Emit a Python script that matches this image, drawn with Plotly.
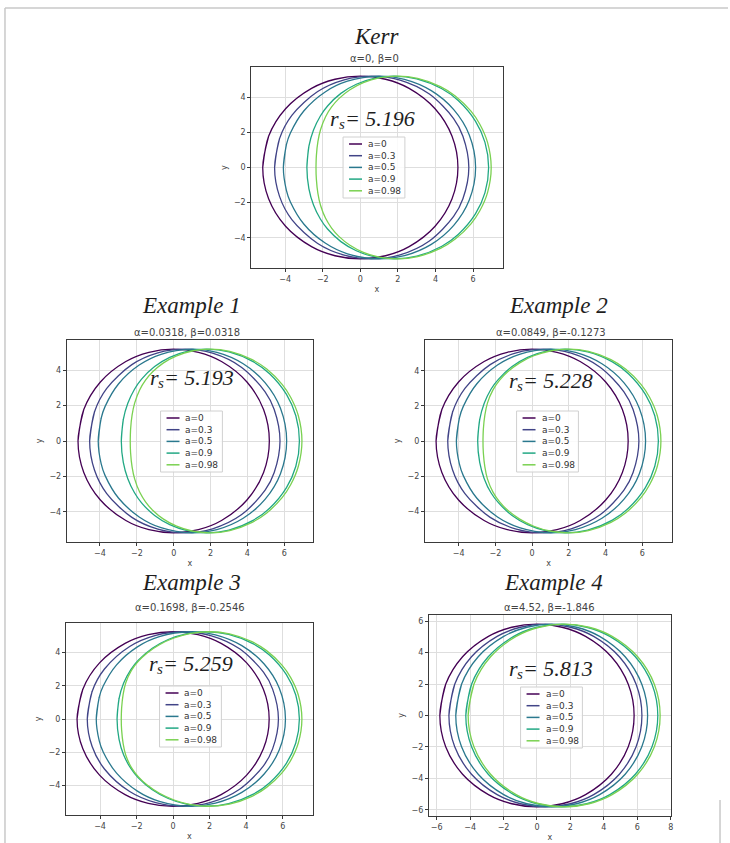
import plotly.graph_objects as go

W, H = 730, 843

SPIN_LABELS = ["a=0", "a=0.3", "a=0.5", "a=0.9", "a=0.98"]
SPIN_COLORS = ["#440154", "#414487", "#2a788e", "#22a884", "#7ad151"]

PANEL_TITLES = ["Kerr", "Example 1", "Example 2", "Example 3", "Example 4"]
PANEL_PARAMS = ["α=0, β=0", "α=0.0318, β=0.0318", "α=0.0849, β=-0.1273",
                "α=0.1698, β=-0.2546", "α=4.52, β=-1.846"]
SHADOW_RADII = ["5.196", "5.193", "5.228", "5.259", "5.813"]

# Upper half of each shadow rim (one list per spin), running from the
# left edge on y=0, over the top, to the right edge on y=0.
KERR_X = [
    [-5.196, -4.883, -3.980, -2.598, -1.345, 0.0, 1.345, 2.598, 3.980, 4.883, 5.196],
    [-4.565, -4.302, -3.635, -2.270, -0.860, 0.600, 2.111, 3.676, 4.967, 5.461, 5.776],
    [-4.098, -3.936, -3.723, -3.000, -1.873, -0.687, 1.000, 2.350, 3.776, 4.973, 5.800, 6.137],
    [-2.845, -2.737, -2.492, -2.127, -1.744, -1.035, -0.215, 0.728, 1.800, 3.004, 4.342, 5.210, 6.127, 6.636, 6.830],
    [-2.360, -2.341, -2.259, -2.120, -1.849, -1.529, -1.142, -0.552, 0.161, 0.998, 1.960, 3.049, 4.264, 5.054, 5.890, 6.354, 6.772, 6.967],
]
KERR_Y = [
    [0, 1.777, 3.340, 4.500, 5.019, 5.196, 5.019, 4.500, 3.340, 1.777, 0],
    [0, 1.640, 2.976, 4.321, 4.985, 5.196, 4.969, 4.178, 2.785, 1.779, 0],
    [0, 1.297, 1.959, 3.227, 4.297, 4.906, 5.196, 5.013, 4.371, 3.292, 1.852, 0],
    [0, 1.209, 2.131, 2.930, 3.500, 4.215, 4.735, 5.072, 5.196, 5.042, 4.476, 3.810, 2.642, 1.430, 0],
    [0, 0.663, 1.467, 2.145, 2.891, 3.443, 3.917, 4.422, 4.823, 5.094, 5.196, 5.068, 4.603, 4.072, 3.205, 2.477, 1.428, 0],
]

EX1_X = [
    [-5.193, -4.880, -3.978, -2.597, -1.344, 0.0, 1.344, 2.597, 3.978, 4.880, 5.193],
    [-4.562, -4.300, -3.633, -2.269, -0.860, 0.600, 2.110, 3.674, 4.964, 5.458, 5.772],
    [-4.096, -3.934, -3.721, -2.998, -1.872, -0.687, 0.999, 2.349, 3.774, 4.970, 5.797, 6.133],
    [-2.843, -2.735, -2.490, -2.126, -1.743, -1.034, -0.215, 0.728, 1.799, 3.002, 4.339, 5.207, 6.123, 6.632, 6.826],
    [-2.358, -2.339, -2.258, -2.119, -1.848, -1.528, -1.141, -0.552, 0.161, 0.997, 1.959, 3.047, 4.261, 5.051, 5.886, 6.350, 6.768, 6.963],
]
EX1_Y = [
    [0, 1.776, 3.338, 4.497, 5.016, 5.193, 5.016, 4.497, 3.338, 1.776, 0],
    [0, 1.639, 2.974, 4.318, 4.982, 5.193, 4.966, 4.176, 2.783, 1.778, 0],
    [0, 1.296, 1.958, 3.225, 4.294, 4.903, 5.193, 5.010, 4.368, 3.290, 1.851, 0],
    [0, 1.208, 2.130, 2.928, 3.498, 4.213, 4.732, 5.069, 5.193, 5.039, 4.473, 3.808, 2.640, 1.429, 0],
    [0, 0.663, 1.466, 2.144, 2.889, 3.441, 3.915, 4.419, 4.820, 5.091, 5.193, 5.065, 4.600, 4.070, 3.203, 2.476, 1.427, 0],
]

EX2_X = [
    [-5.228, -4.913, -4.005, -2.614, -1.353, 0.0, 1.353, 2.614, 4.005, 4.913, 5.228],
    [-4.593, -4.329, -3.657, -2.284, -0.865, 0.604, 2.124, 3.699, 4.998, 5.495, 5.812],
    [-4.123, -3.960, -3.746, -3.018, -1.885, -0.691, 1.006, 2.364, 3.799, 5.004, 5.836, 6.175],
    [-2.963, -2.854, -2.607, -2.240, -1.825, -1.091, -0.246, 0.722, 1.811, 3.023, 4.369, 5.242, 6.165, 6.677, 6.872],
    [-2.675, -2.655, -2.573, -2.433, -2.130, -1.768, -1.329, -0.675, 0.092, 0.974, 1.972, 3.068, 4.290, 5.085, 5.926, 6.393, 6.814, 7.010],
]
EX2_Y = [
    [0, 1.788, 3.361, 4.527, 5.050, 5.228, 5.050, 4.527, 3.361, 1.788, 0],
    [0, 1.650, 2.994, 4.348, 5.016, 5.228, 5.000, 4.204, 2.802, 1.790, 0],
    [0, 1.305, 1.971, 3.247, 4.323, 4.936, 5.228, 5.044, 4.398, 3.312, 1.863, 0],
    [0, 1.216, 2.144, 2.948, 3.522, 4.241, 4.764, 5.103, 5.228, 5.073, 4.504, 3.833, 2.658, 1.439, 0],
    [0, 0.667, 1.476, 2.158, 2.909, 3.464, 3.941, 4.449, 4.853, 5.125, 5.228, 5.099, 4.631, 4.097, 3.225, 2.492, 1.437, 0],
]

EX3_X = [
    [-5.259, -4.942, -4.028, -2.630, -1.361, 0.0, 1.361, 2.630, 4.028, 4.942, 5.259],
    [-4.700, -4.434, -3.759, -2.378, -0.950, 0.527, 2.057, 3.641, 4.947, 5.447, 5.766],
    [-4.208, -4.044, -3.828, -3.096, -1.956, -0.755, 0.952, 2.318, 3.762, 4.973, 5.810, 6.151],
    [-3.069, -2.960, -2.712, -2.323, -1.905, -1.138, -0.268, 0.717, 1.822, 3.040, 4.395, 5.273, 6.201, 6.716, 6.913],
    [-2.839, -2.819, -2.736, -2.596, -2.281, -1.898, -1.436, -0.749, 0.053, 0.970, 1.984, 3.086, 4.316, 5.115, 5.961, 6.431, 6.854, 7.051],
]
EX3_Y = [
    [0, 1.799, 3.380, 4.554, 5.080, 5.259, 5.080, 4.554, 3.380, 1.799, 0],
    [0, 1.660, 3.012, 4.373, 5.045, 5.259, 5.029, 4.229, 2.819, 1.801, 0],
    [0, 1.313, 1.983, 3.266, 4.349, 4.965, 5.259, 5.074, 4.424, 3.332, 1.874, 0],
    [0, 1.224, 2.157, 2.966, 3.542, 4.266, 4.792, 5.133, 5.259, 5.103, 4.530, 3.856, 2.674, 1.447, 0],
    [0, 0.671, 1.485, 2.171, 2.926, 3.485, 3.964, 4.476, 4.881, 5.156, 5.259, 5.129, 4.659, 4.121, 3.244, 2.507, 1.445, 0],
]

EX4_X = [
    [-5.813, -5.463, -4.453, -2.907, -1.504, 0.0, 1.504, 2.907, 4.453, 5.463, 5.813],
    [-5.270, -4.922, -3.919, -2.383, -0.990, 0.505, 2.000, 3.393, 4.929, 5.932, 6.280],
    [-4.860, -4.514, -3.517, -1.990, -0.606, 0.880, 2.366, 3.750, 5.277, 6.274, 6.620],
    [-4.260, -3.914, -2.916, -1.388, -0.002, 1.485, 2.972, 4.358, 5.886, 6.884, 7.230],
    [-4.120, -3.774, -2.776, -1.248, 0.138, 1.625, 3.112, 4.498, 6.026, 7.024, 7.370],
]
EX4_Y = [
    [0, 1.988, 3.737, 5.034, 5.615, 5.813, 5.615, 5.034, 3.737, 1.988, 0],
    [0, 1.988, 3.737, 5.034, 5.615, 5.813, 5.615, 5.034, 3.737, 1.988, 0],
    [0, 1.988, 3.737, 5.034, 5.615, 5.813, 5.615, 5.034, 3.737, 1.988, 0],
    [0, 1.988, 3.737, 5.034, 5.615, 5.813, 5.615, 5.034, 3.737, 1.988, 0],
    [0, 1.988, 3.737, 5.034, 5.615, 5.813, 5.615, 5.034, 3.737, 1.988, 0],
]

PANEL_DATA = [(KERR_X, KERR_Y), (EX1_X, EX1_Y), (EX2_X, EX2_Y), (EX3_X, EX3_Y), (EX4_X, EX4_Y)]

# Page layout in pixels: plot box (left, top, right, bottom), title centre,
# parameter line centre, r_s label centre, legend box top-left.
LAYOUT = [
    dict(box=(252, 67, 504, 268), title=(378, 37), sub=(376, 58), rs=(372, 118), leg=(344, 137)),
    dict(box=(67, 340, 314, 542), title=(192, 306), sub=(188, 333), rs=(191, 377), leg=(161, 411)),
    dict(box=(426, 340, 674, 542), title=(560, 306), sub=(553, 333), rs=(551, 380), leg=(518, 411)),
    dict(box=(66, 623, 314, 815), title=(192, 582), sub=(191, 607), rs=(190, 663), leg=(160, 686)),
    dict(box=(430, 615, 673, 816), title=(555, 582), sub=(551, 607), rs=(551, 668), leg=(522, 687)),
]

SERIF = "Liberation Serif, Times New Roman, serif"
SANS = "DejaVu Sans, sans-serif"


def fx(px):
    return px / W


def fy(py):
    return 1 - py / H


def closed_rim(ux, uy):
    """Mirror the upper half below y=0 and wrap one step past the start."""
    xs = list(ux) + list(ux[-2::-1])
    ys = list(uy) + [-v for v in uy[-2::-1]]
    xs.append(ux[1])
    ys.append(uy[1])
    return xs, ys


def note(x, y, text, size, family, color="#1e1e1e", xanchor="center", yanchor="middle"):
    return dict(x=fx(x), y=fy(y), xref="paper", yref="paper", text=text,
                showarrow=False, xanchor=xanchor, yanchor=yanchor,
                font=dict(family=family, size=size, color=color))


fig = go.Figure()
shapes = []
annotations = []

for i, ((px_list, py_list), geo) in enumerate(zip(PANEL_DATA, LAYOUT)):
    sfx = "" if i == 0 else str(i + 1)
    xa, ya = "x" + sfx, "y" + sfx

    for label, color, ux, uy in zip(SPIN_LABELS, SPIN_COLORS, px_list, py_list):
        xs, ys = closed_rim(ux, uy)
        fig.add_trace(go.Scatter(
            x=xs, y=ys, mode="lines", name=label, showlegend=False,
            line=dict(color=color, width=1.3, shape="spline", smoothing=0.9),
            xaxis=xa, yaxis=ya, hoverinfo="skip",
        ))

    # matplotlib-style 5% data margins
    allx = [v for row in px_list for v in row]
    ally = [v for row in py_list for v in row]
    xmin, xmax = min(allx), max(allx)
    ymax = max(ally)
    mx = 0.05 * (xmax - xmin)
    my = 0.05 * (2 * ymax)

    l, t, r, b = geo["box"]
    axis_common = dict(
        showline=True, mirror=True, linecolor="#3a3a3a", linewidth=1,
        ticks="outside", ticklen=3, tickwidth=1, tickcolor="#3a3a3a",
        showgrid=True, gridcolor="#dedede", gridwidth=1, zeroline=False,
        dtick=2, tickfont=dict(family=SANS, size=8, color="#444"),
    )
    title_font = dict(family=SANS, size=8, color="#444")
    fig.layout["xaxis" + sfx] = dict(
        axis_common, domain=[fx(l), fx(r)], anchor=ya,
        range=[xmin - mx, xmax + mx],
        title=dict(text="x", standoff=3, font=title_font),
    )
    fig.layout["yaxis" + sfx] = dict(
        axis_common, domain=[fy(b), fy(t)], anchor=xa,
        range=[-ymax - my, ymax + my],
        title=dict(text="y", standoff=5, font=title_font),
    )

    # panel heading and parameter line
    annotations.append(note(*geo["title"], "<i>%s</i>" % PANEL_TITLES[i], 23, SERIF))
    annotations.append(note(*geo["sub"], PANEL_PARAMS[i], 10, SANS, color="#444"))

    # shadow radius label "r_s= ..." built from three pieces
    cx, cy = geo["rs"]
    x0 = cx - 42
    annotations.append(note(x0 - 1, cy, "<i>r</i>", 22, SERIF, xanchor="left"))
    annotations.append(note(x0 + 7.5, cy + 6, "<i>s</i>", 15, SERIF, xanchor="left"))
    annotations.append(note(x0 + 13.5, cy, "<i>= %s</i>" % SHADOW_RADII[i], 22, SERIF,
                            xanchor="left"))

    # legend box with one key line per spin
    lx, ly = geo["leg"]
    lw, lh, step = 62, 61, 11.7
    shapes.append(dict(
        type="rect", xref="paper", yref="paper",
        x0=fx(lx), x1=fx(lx + lw), y0=fy(ly + lh), y1=fy(ly),
        line=dict(color="#d0d0d0", width=1), fillcolor="rgba(255,255,255,0.85)",
        layer="above",
    ))
    for k, (label, color) in enumerate(zip(SPIN_LABELS, SPIN_COLORS)):
        yy = ly + 7 + k * step
        shapes.append(dict(
            type="line", xref="paper", yref="paper",
            x0=fx(lx + 6), x1=fx(lx + 19), y0=fy(yy), y1=fy(yy),
            line=dict(color=color, width=1.5), layer="above",
        ))
        annotations.append(note(lx + 23, yy, label, 9, SANS, color="#333", xanchor="left"))

# thin page frame
frame = "#c9c9c9"
shapes.append(dict(type="line", xref="paper", yref="paper",
                   x0=fx(5), x1=1, y0=fy(8), y1=fy(8), line=dict(color=frame, width=1.5)))
shapes.append(dict(type="line", xref="paper", yref="paper",
                   x0=fx(5), x1=fx(5), y0=fy(8), y1=0, line=dict(color=frame, width=1.5)))
shapes.append(dict(type="line", xref="paper", yref="paper",
                   x0=fx(722), x1=fx(722), y0=fy(800), y1=0, line=dict(color=frame, width=1.5)))

fig.update_layout(
    width=W, height=H, autosize=False,
    margin=dict(l=0, r=0, t=0, b=0),
    paper_bgcolor="white", plot_bgcolor="white",
    shapes=shapes, annotations=annotations,
    showlegend=False,
)

fig.write_html("out.html")
